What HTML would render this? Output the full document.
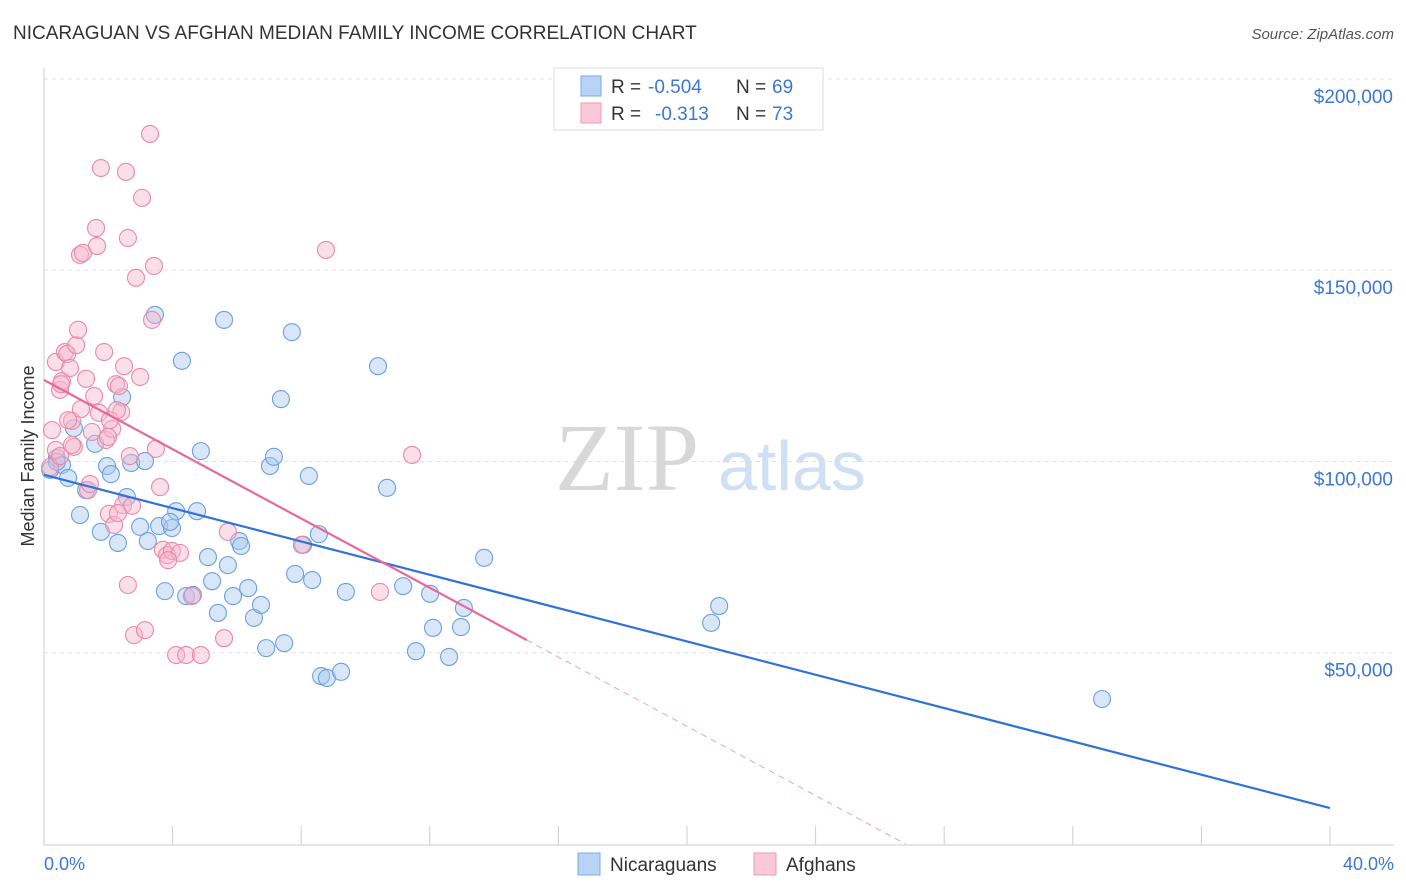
<!DOCTYPE html>
<html><head><meta charset="utf-8"><style>
body{margin:0;background:#fff;font-family:"Liberation Sans",sans-serif;}
svg{display:block}
</style></head><body>
<svg id="chart" width="1406" height="892" xmlns="http://www.w3.org/2000/svg" font-family="Liberation Sans, sans-serif">
<text x="13" y="39" font-size="19" fill="#333">NICARAGUAN VS AFGHAN MEDIAN FAMILY INCOME CORRELATION CHART</text>
<text x="1394" y="39" font-size="15" fill="#555" text-anchor="end" font-style="italic">Source: ZipAtlas.com</text>
<g id="grid"></g>
<g>
<text x="555" y="490" font-size="96" fill="#d8d8d8" font-family="Liberation Serif, serif">ZIP</text>
<text x="718" y="490" font-size="70" fill="#cfe0f4">atlas</text>
</g>
<g id="axes"></g>
<g id="pts"></g>
<g id="trends"></g>
<text transform="translate(34,456) rotate(-90)" font-size="18" fill="#333" text-anchor="middle">Median Family Income</text>
<text x="44" y="870" font-size="18" fill="#3a78d4">0.0%</text>
<text x="1394" y="870" font-size="18" fill="#3a78d4" text-anchor="end">40.0%</text>
<g>
<rect x="554" y="68" width="269" height="62" fill="#fff" stroke="#ddd"/>
<rect x="581" y="76" width="20" height="20" fill="#b8d3f5" stroke="#7aa8e4"/>
<rect x="581" y="103" width="20" height="20" fill="#fbc8d8" stroke="#ee9ab6"/>
<text x="611" y="93" font-size="19" fill="#333">R =</text>
<text x="648" y="93" font-size="19" fill="#3a78d4">-0.504</text>
<text x="736" y="93" font-size="19" fill="#333">N =</text>
<text x="772" y="93" font-size="19" fill="#3a78d4">69</text>
<text x="611" y="120" font-size="19" fill="#333">R =</text>
<text x="655" y="120" font-size="19" fill="#3a78d4">-0.313</text>
<text x="736" y="120" font-size="19" fill="#333">N =</text>
<text x="772" y="120" font-size="19" fill="#3a78d4">73</text>
</g>
<g>
<rect x="578" y="853" width="22" height="22" fill="#b8d3f5" stroke="#7aa8e4"/>
<text x="610" y="871" font-size="19" fill="#333">Nicaraguans</text>
<rect x="754" y="853" width="22" height="22" fill="#fbc8d8" stroke="#ee9ab6"/>
<text x="786" y="871" font-size="19" fill="#333">Afghans</text>
</g>
</svg>
<script>
const yTicks=[50,100,150,200];
const yTickLabels=["$50,000","$100,000","$150,000","$200,000"];
const xTicks=[0,4,8,12,16,20,24,28,32,36,40];
const blueX=[0.19,0.40,0.56,0.75,0.93,1.12,1.31,1.59,1.77,1.96,2.08,2.30,2.43,2.58,2.71,2.99,3.14,3.23,3.45,3.58,3.76,3.98,4.11,4.29,4.42,4.63,4.76,4.88,5.10,5.23,5.41,5.60,5.72,5.88,6.07,6.13,6.35,6.53,6.75,6.91,7.03,7.15,7.37,7.47,7.71,7.81,8.24,8.34,8.55,8.62,8.80,9.24,9.39,10.39,10.67,11.17,11.57,12.01,12.10,12.60,12.97,13.06,13.69,20.75,21.0,32.91,3.92,8.06,0.40];
const blueY=[97.8,100.9,99.1,95.7,108.7,86.0,92.5,104.6,81.6,98.8,96.7,78.7,116.8,90.7,99.6,82.9,100.1,79.2,138.3,83.1,66.1,82.6,87.0,126.3,64.8,65.1,87.0,102.7,75.0,68.7,60.4,137.0,72.9,64.8,79.2,77.9,66.9,59.1,62.5,51.2,98.8,101.2,116.3,52.5,133.8,70.6,96.2,69.0,81.0,43.9,43.4,45.0,65.9,124.9,93.1,67.4,50.4,65.4,56.5,48.9,56.7,61.7,74.8,57.8,62.2,37.9,84.2,78.2,99.9];
const pinkX=[0.19,0.25,0.37,0.37,0.50,0.56,0.65,0.72,0.81,0.87,0.93,1.0,1.06,1.12,1.21,1.31,1.37,1.49,1.56,1.62,1.65,1.71,1.77,1.87,1.93,2.02,2.12,2.18,2.24,2.33,2.40,2.46,2.55,2.61,2.67,2.74,2.80,2.86,2.99,3.05,3.14,3.30,3.36,3.42,3.48,3.61,3.70,3.83,3.98,4.11,4.23,4.42,4.60,4.88,5.60,5.72,8.02,8.77,10.45,11.45,0.75,0.50,0.87,2.05,2.61,2.49,2.27,1.99,1.15,1.43,3.86,2.30,0.53];
const pinkY=[98.5,108.2,103.0,126.0,118.7,121.0,128.6,128.1,124.4,110.6,103.8,130.4,134.4,154.0,154.5,121.6,92.5,107.7,117.1,161.0,156.3,112.7,176.7,128.6,105.6,86.3,108.5,83.4,120.2,119.7,112.9,88.6,175.7,158.4,101.4,88.4,54.6,148.0,122.1,168.9,55.9,185.6,137.0,151.1,103.3,93.3,76.9,75.5,76.6,49.4,76.1,49.4,64.8,49.4,53.8,81.6,78.2,155.3,65.9,101.7,110.8,101.4,104.3,110.8,67.7,124.9,113.4,106.4,113.7,94.1,74.2,86.5,120.2];
const blueTrend=[[0,96.5],[40,9.4]];
const pinkTrend=[[0,121.3],[15.02,53.3]];
const pinkDash=[[15.02,53.3],[26.8,0]];

const NS="http://www.w3.org/2000/svg";
const sx=v=>44+v*32.15;
const sy=v=>844-v/0.2614;
function mk(tag,attrs,parent){const e=document.createElementNS(NS,tag);for(const k in attrs)e.setAttribute(k,attrs[k]);parent.appendChild(e);return e;}
const grid=document.getElementById('grid'),axes=document.getElementById('axes'),pts=document.getElementById('pts'),tr=document.getElementById('trends');
yTicks.forEach((t,i)=>{
 const l=mk('line',{x1:44,x2:1394,y1:sy(t),y2:sy(t),stroke:'#e2e2e2','stroke-dasharray':'4,4'},grid);
 
 
 const tx=mk('text',{x:1393,y:sy(t)+24,'font-size':19,fill:'#3a78d4','text-anchor':'end'},axes);
 tx.textContent=yTickLabels[i];
 
 
});
const topG=mk('line',{x1:44,x2:1394,y1:79,y2:79,stroke:'#e2e2e2','stroke-dasharray':'4,4'},grid);


const yax=mk('line',{x1:44,x2:44,y1:68,y2:845,stroke:'#ccc'},axes);


const xax=mk('line',{x1:44,x2:1394,y1:845,y2:845,stroke:'#ccc'},axes);


xTicks.forEach(t=>{
 const l=mk('line',{x1:sx(t),x2:sx(t),y1:826,y2:845,stroke:'#ccc'},axes);
 
 
});
function dots(X,Y,fill,stroke,name){
 X.forEach((x,i)=>{
  const c=mk('circle',{cx:sx(x),cy:sy(Y[i]),r:8.5,fill:fill,'fill-opacity':0.45,stroke:stroke,'stroke-width':1.1},pts);
  
  
 });
}
dots(blueX,blueY,'#a9c8f0','#6a9fe0','nicaraguan-point');
dots(pinkX,pinkY,'#f7b9cd','#e889a8','afghan-point');
function line(p,stroke,w,dash,name){
 const a={x1:sx(p[0][0]),y1:sy(p[0][1]),x2:sx(p[1][0]),y2:sy(p[1][1]),stroke:stroke,'stroke-width':w};
 if(dash)a['stroke-dasharray']=dash;
 const l=mk('line',a,tr);
 
 
}
line(blueTrend,'#2f73d8',2.2,null,'nicaraguan-trend-line');
line(pinkTrend,'#e8689a',2.2,null,'afghan-trend-line');
line(pinkDash,'#eea0bd',1,'6,5','afghan-trend-extension');
</script>
</body></html>
